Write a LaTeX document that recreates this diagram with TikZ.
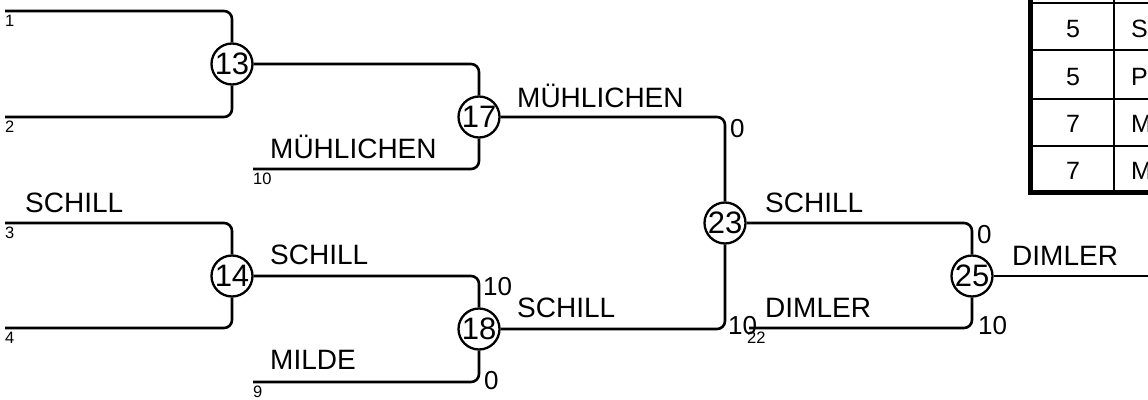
\documentclass[tikz,border=0pt]{standalone}
\usepackage{fontspec}
\setmainfont{Liberation Sans}
\begin{document}
\begin{tikzpicture}[x=1pt,y=-1pt,
  match/.style={circle,draw,line width=2.3pt,minimum size=41pt,inner sep=0pt,font=\fontsize{31}{31}\selectfont},
  wire/.style={line width=2.6pt,rounded corners=8pt},
  player/.style={anchor=base west,inner sep=0pt,font=\fontsize{28}{28}\selectfont},
  score/.style={inner sep=0pt,font=\fontsize{26}{26}\selectfont},
  seed/.style={anchor=north west,inner sep=0pt,font=\fontsize{16.5}{16.5}\selectfont},
  cell/.style={inner sep=0pt,font=\fontsize{25}{25}\selectfont},
  thinrule/.style={line width=2pt},
  thickrule/.style={line width=4.5pt,line join=miter}]
\useasboundingbox (0,0) rectangle (1148,399);
\clip (0,0) rectangle (1148,399);

% match nodes
\node[match] (n13) at (232,64) {13};
\node[match] (n14) at (232,276) {14};
\node[match] (n17) at (479,117) {17};
\node[match] (n18) at (479,329) {18};
\node[match] (n23) at (725,223) {23};
\node[match] (n25) at (972,276) {25};

% leaf coordinates
\coordinate (l1) at (5,11);
\coordinate (l2) at (5,117);
\coordinate (l10) at (253,169);
\coordinate (l3) at (5,223);
\coordinate (l4) at (5,328);
\coordinate (l9) at (253,382);
\coordinate (l22) at (749,328);
\coordinate (out) at (1152,276);

% wires
\draw[wire] (l1) -| (n13.north);
\draw[wire] (l2) -| (n13.south);
\draw[wire] (n13.east) -| (n17.north);
\draw[wire] (l10) -| (n17.south);
\draw[wire] (l3) -| (n14.north);
\draw[wire] (l4) -| (n14.south);
\draw[wire] (n14.east) -| (n18.north);
\draw[wire] (l9) -| (n18.south);
\draw[wire] (n17.east) -| (n23.north);
\draw[wire] (n18.east) -| (n23.south);
\draw[wire] (n23.east) -| (n25.north);
\draw[wire] (l22) -| (n25.south);
\draw[wire] (n25.east) -- (out);

% seed numbers
\node[seed] (s1) at (5,15) {1};
\node[seed] (s2) at (5,121) {2};
\node[seed] (s10) at (253,173) {10};
\node[seed] (s3) at (5,227) {3};
\node[seed] (s4) at (5,332) {4};
\node[seed] (s9) at (253,386) {9};
\node[seed] (s22) at (747,332) {22};

% player names
\node[player] (p3) at (25,212) {SCHILL};
\node[player] (p10) at (270,158) {MÜHLICHEN};
\node[player] (p14) at (270,264) {SCHILL};
\node[player] (p9) at (270,369) {MILDE};
\node[player] (p17) at (517,107) {MÜHLICHEN};
\node[player] (p18) at (517,317) {SCHILL};
\node[player] (p23) at (765,212) {SCHILL};
\node[player] (p22) at (765,317) {DIMLER};
\node[player] (p25) at (1012,265) {DIMLER};

% scores
\node[score,anchor=north west] (c23a) at (730,119) {0};
\node[score,anchor=west] (c23b) at (728,326) {10};
\node[score,anchor=north west] (c18a) at (483,277) {10};
\node[score,anchor=west] (c18b) at (484,381) {0};
\node[score,anchor=north west] (c25a) at (977,225) {0};
\node[score,anchor=west] (c25b) at (978,326) {10};

% table (clipped at the right and top)
\foreach \yy in {3,50,98.5,146} \draw[thinrule] (1030,\yy) -- (1152,\yy);
\draw[thinrule] (1114,-50) -- (1114,192);
\draw[thickrule] (1030.5,-50) -- (1030.5,192.5) -- (1152,192.5);
\node[cell] (t1a) at (1073,29) {5};
\node[cell,anchor=west] (t1b) at (1131,29) {S};
\node[cell] (t2a) at (1073,77) {5};
\node[cell,anchor=west] (t2b) at (1131,77) {P};
\node[cell] (t3a) at (1073,124) {7};
\node[cell,anchor=west] (t3b) at (1131,124) {M};
\node[cell] (t4a) at (1073,171) {7};
\node[cell,anchor=west] (t4b) at (1131,171) {M};
\end{tikzpicture}
\end{document}
